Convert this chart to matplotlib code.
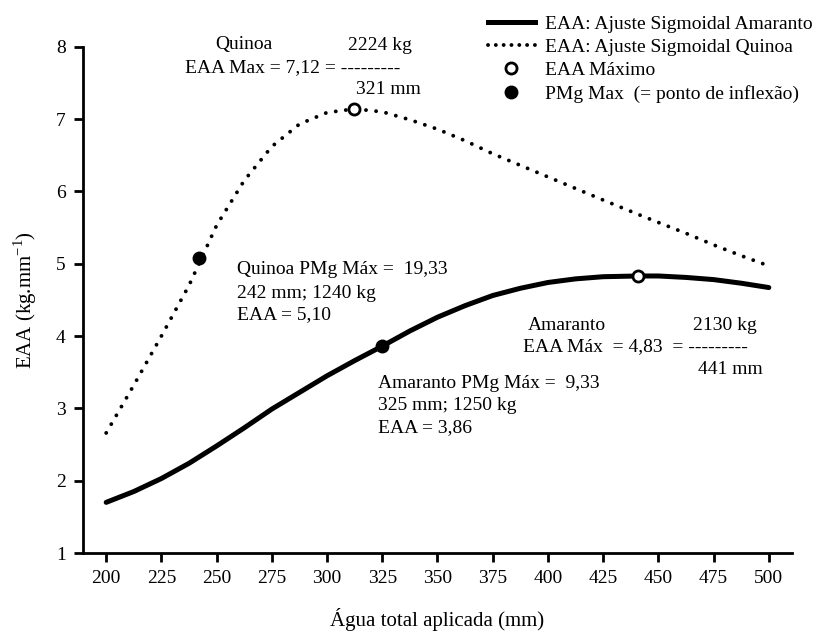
import matplotlib
matplotlib.use("Agg")
import matplotlib.pyplot as plt
from matplotlib.lines import Line2D

plt.rcParams['font.family'] = ['Liberation Serif', 'DejaVu Serif']
plt.rcParams['mathtext.fontset'] = 'custom'
plt.rcParams['mathtext.rm'] = 'Liberation Serif'
plt.rcParams['font.size'] = 14

# ---- data ----
agua = [200, 212.5, 225, 237.5, 250, 262.5, 275, 287.5, 300, 312.5, 325, 337.5,
        350, 362.5, 375, 387.5, 400, 412.5, 425, 441, 450, 462.5, 475, 487.5, 500]
eaa_amaranto = [1.70, 1.85, 2.03, 2.24, 2.48, 2.73, 2.99, 3.22, 3.45, 3.66, 3.86, 4.07,
                4.26, 4.42, 4.56, 4.66, 4.74, 4.79, 4.82, 4.83, 4.83, 4.81, 4.78, 4.73, 4.67]
eaa_quinoa = [2.66, 3.32, 4.00, 4.70, 5.53, 6.15, 6.62, 6.93, 7.09, 7.14, 7.10, 6.99,
              6.86, 6.70, 6.52, 6.36, 6.20, 6.04, 5.88, 5.68, 5.57, 5.42, 5.26, 5.11, 4.97]
max_x = [441, 312]
max_y = [4.83, 7.14]
pmg_x = [325, 242]
pmg_y = [3.86, 5.08]

W, H = 822, 637
fig = plt.figure(figsize=(W / 100, H / 100), dpi=100)
ax = fig.add_axes([83 / W, 1 - 553 / H, (792 - 83) / W, (553 - 46.7) / H])

ax.plot(agua, eaa_amaranto, color='black', lw=3.6, solid_capstyle='round', zorder=2)
ax.plot(agua, eaa_quinoa, color='black', lw=2.8, linestyle=(0, (0.01, 2.6)),
        dash_capstyle='round', zorder=2)
ax.plot(max_x, max_y, 'o', ms=8, mfc='white', mec='black', mew=2, zorder=4)
ax.plot(pmg_x, pmg_y, 'o', ms=9, mfc='black', mec='black', zorder=4)

ax.set_xlim(189.5, 510.5)
ax.set_ylim(1, 8)
ax.set_xticks(range(200, 501, 25))
ax.set_yticks(range(1, 9))
for s in ['top', 'right']:
    ax.spines[s].set_visible(False)
for s in ['left', 'bottom']:
    ax.spines[s].set_linewidth(2)
ax.tick_params(direction='out', length=6.5, width=2, labelsize=14, pad=6)
ax.set_xlabel('Água total aplicada (mm)', fontsize=15, labelpad=15)
ax.set_ylabel('EAA (kg.mm$^{\\mathrm{-1}}$)', fontsize=15, labelpad=12)

handles = [
    Line2D([], [], color='black', lw=3.6),
    Line2D([], [], color='black', lw=2.8, linestyle=(0, (0.01, 2.0)), dash_capstyle='round'),
    Line2D([], [], color='black', marker='o', ls='none', ms=8, mfc='white', mew=2),
    Line2D([], [], color='black', marker='o', ls='none', ms=9),
]
labels = ['EAA: Ajuste Sigmoidal Amaranto', 'EAA: Ajuste Sigmoidal Quinoa',
          'EAA Máximo', 'PMg Max  (= ponto de inflexão)']
fig.legend(handles, labels, loc='upper left', bbox_to_anchor=(488 / W, 1 - 15 / H),
           frameon=False, fontsize=14, handlelength=2.4, handletextpad=0.55,
           labelspacing=0.29, borderpad=0, borderaxespad=0)


def ftext(x, y, s):
    fig.text(x / W, 1 - y / H, s, ha='left', va='center', fontsize=14)


ftext(215, 45, 'Quinoa')
ftext(348, 45, '2224 kg')
ftext(185, 68, 'EAA Max = 7,12 = ---------')
ftext(356, 89, '321 mm')

ftext(237, 270, 'Quinoa PMg Máx =  19,33')
ftext(237, 293, '242 mm; 1240 kg')
ftext(237, 315, 'EAA = 5,10')

ftext(378, 383, 'Amaranto PMg Máx =  9,33')
ftext(378, 405, '325 mm; 1250 kg')
ftext(378, 428, 'EAA = 3,86')

ftext(528, 325, 'Amaranto')
ftext(693, 325, '2130 kg')
ftext(523, 347, 'EAA Máx  = 4,83  = ---------')
ftext(698, 370, '441 mm')

fig.savefig('out.png', dpi=100)
